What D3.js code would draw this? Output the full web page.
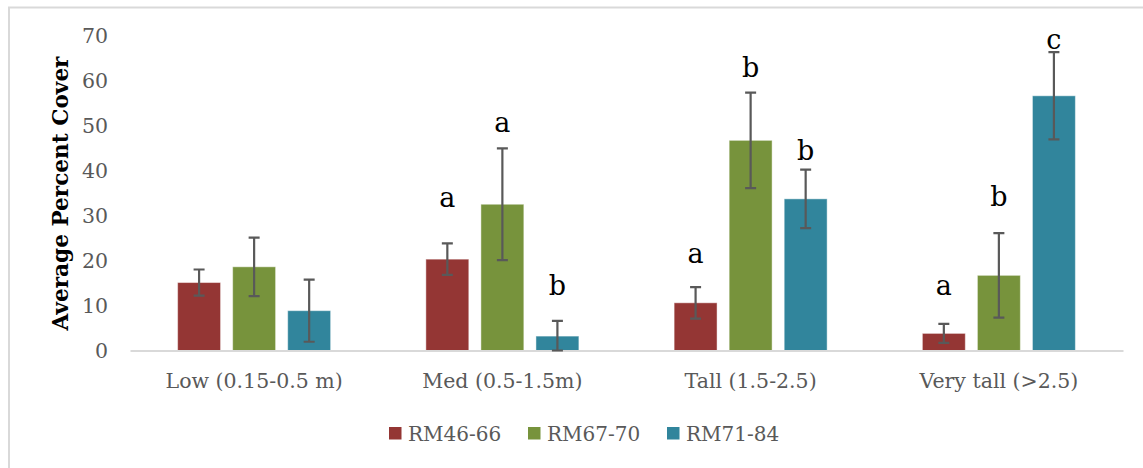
<!DOCTYPE html>
<html>
<head>
<meta charset="utf-8">
<script src="https://cdn.jsdelivr.net/npm/d3@7"></script>
<style>
  html, body { margin: 0; padding: 0; background: #fff; }
  svg { display: block; }
</style>
</head>
<body>
<svg id="chart" width="1143" height="468"></svg>
<script>
// Height classes and survey groups
const categories = ["Low (0.15-0.5 m)", "Med (0.5-1.5m)", "Tall (1.5-2.5)", "Very tall (>2.5)"];
const seriesNames = ["RM46-66", "RM67-70", "RM71-84"];
const seriesColors = ["#943634", "#77933C", "#31859C"];

// Mean percent cover per series (one value per category)
const rm4666 = [15.1, 20.3, 10.6, 3.8];
const rm6770 = [18.6, 32.5, 46.7, 16.7];
const rm7184 = [8.85, 3.2, 33.7, 56.6];

// Error (+/-) per series
const rm4666Err = [2.9, 3.5, 3.5, 2.1];
const rm6770Err = [6.5, 12.4, 10.6, 9.4];
const rm7184Err = [6.9, 3.4, 6.5, 9.7];

// Significance letters and the cover value their baseline sits at
const rm4666Letters = ["", "a", "a", "a"];
const rm6770Letters = ["", "a", "b", "b"];
const rm7184Letters = ["", "b", "b", "c"];
const rm4666LetterAt = [0, 31.9, 19.4, 12.3];
const rm6770LetterAt = [0, 48.6, 60.7, 32.1];
const rm7184LetterAt = [0, 12.3, 42.3, 66.9];

const yTicks = [0, 10, 20, 30, 40, 50, 60, 70];

const seriesValues = [rm4666, rm6770, rm7184];
const seriesErrors = [rm4666Err, rm6770Err, rm7184Err];
const seriesLetters = [rm4666Letters, rm6770Letters, rm7184Letters];
const seriesLetterAt = [rm4666LetterAt, rm6770LetterAt, rm7184LetterAt];

const rows = [];
categories.forEach((c, ci) => {
  seriesNames.forEach((s, si) => {
    rows.push({
      category: c, series: s, si,
      value: seriesValues[si][ci],
      err: seriesErrors[si][ci],
      letter: seriesLetters[si][ci],
      letterAt: seriesLetterAt[si][ci]
    });
  });
});

const svg = d3.select("#chart");
const W = 1143, H = 468;
const font = "'DejaVu Serif', 'Liberation Serif', serif";
const textGray = "#595959";

// Chart area frame
svg.append("rect")
  .attr("x", 9).attr("y", 7.5)
  .attr("width", W + 10).attr("height", H + 10)
  .attr("fill", "none").attr("stroke", "#d9d9d9").attr("stroke-width", 2);

const plot = { left: 130, right: 1123, top: 35.5, bottom: 350.5 };

const x0 = d3.scaleBand().domain(categories)
  .range([plot.left, plot.right]).paddingInner(0).paddingOuter(0);
const groupWidth = 153;
const x1 = d3.scaleBand().domain(seriesNames)
  .range([0, groupWidth]).paddingInner(0.22).paddingOuter(0);
const y = d3.scaleLinear().domain([0, 70]).range([plot.bottom, plot.top]);

const barX = d => x0(d.category) + (x0.bandwidth() - groupWidth) / 2 + x1(d.series);

// Y axis labels (no line, no ticks)
const yAxis = svg.append("g")
  .attr("transform", `translate(${plot.left - 22},0)`)
  .call(d3.axisLeft(y).tickValues(yTicks).tickSize(0).tickPadding(0));
yAxis.select(".domain").remove();
yAxis.selectAll("text")
  .attr("fill", textGray)
  .style("font-family", font)
  .style("font-size", "20.5px")
  .attr("dy", "0.36em");

// Y axis title
svg.append("text")
  .attr("transform", `translate(68,${(55 + 332) / 2}) rotate(-90)`)
  .attr("text-anchor", "middle")
  .attr("fill", "#000")
  .style("font-family", font)
  .style("font-weight", "bold")
  .style("font-size", "21.6px")
  .text("Average Percent Cover");

// Bars
svg.append("g").selectAll("rect")
  .data(rows).join("rect")
  .attr("x", d => barX(d))
  .attr("y", d => y(d.value))
  .attr("width", x1.bandwidth())
  .attr("height", d => y(0) - y(d.value))
  .attr("fill", d => seriesColors[d.si])
  .attr("stroke", "rgba(255,255,255,0.45)")
  .attr("stroke-width", 1);

// Category axis line and labels
const xAxis = svg.append("g")
  .attr("transform", `translate(0,${plot.bottom})`)
  .call(d3.axisBottom(x0).tickSize(0).tickPadding(23));
xAxis.select(".domain").attr("stroke", "#d9d9d9").attr("stroke-width", 2);
xAxis.selectAll("text")
  .attr("fill", textGray)
  .style("font-family", font)
  .style("font-size", "20.5px");

// Error bars
const cap = 5.5;
const eb = svg.append("g").attr("stroke", "#595959").attr("stroke-width", 2.2).attr("fill", "none");
eb.selectAll("path").data(rows).join("path")
  .attr("d", d => {
    const cx = barX(d) + x1.bandwidth() / 2;
    const hi = y(d.value + d.err);
    const lo = y(Math.max(0, d.value - d.err));
    return `M${cx - cap},${hi}H${cx + cap}M${cx},${hi}V${lo}M${cx - cap},${lo}H${cx + cap}`;
  });

// Significance letters
svg.append("g").selectAll("text")
  .data(rows.filter(d => d.letter)).join("text")
  .attr("x", d => barX(d) + x1.bandwidth() / 2)
  .attr("y", d => y(d.letterAt))
  .attr("text-anchor", "middle")
  .attr("fill", "#000")
  .style("font-family", font)
  .style("font-size", "27px")
  .text(d => d.letter);

// Legend
const legendX = [389, 528, 667];
const legend = svg.append("g").selectAll("g")
  .data(seriesNames).join("g")
  .attr("transform", (d, i) => `translate(${legendX[i]},427)`);
legend.append("rect")
  .attr("width", 12.5).attr("height", 12.5)
  .attr("fill", (d, i) => seriesColors[i]);
legend.append("text")
  .attr("x", 19).attr("y", 6.5).attr("dy", "0.36em")
  .attr("fill", textGray)
  .style("font-family", font)
  .style("font-size", "20px")
  .text(d => d);
</script>
</body>
</html>
